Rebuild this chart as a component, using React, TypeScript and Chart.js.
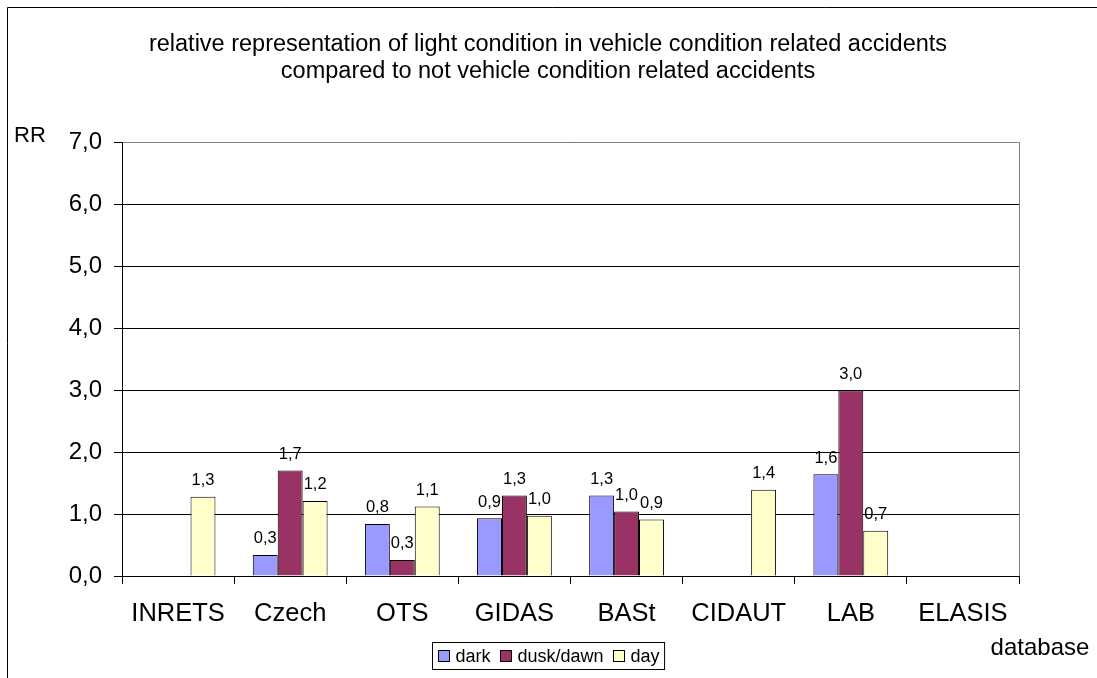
import React, { useEffect, useRef } from "react";
import { Chart, registerables } from "chart.js";

Chart.register(...registerables);

// Databases on the category axis
const categories = ["INRETS", "Czech", "OTS", "GIDAS", "BASt", "CIDAUT", "LAB", "ELASIS"];

// Relative representation (RR) per light condition
const darkValues = [null, 0.34, 0.84, 0.93, 1.3, null, 1.64, null];
const duskDawnValues = [null, 1.7, 0.26, 1.3, 1.04, null, 2.99, null];
const dayValues = [1.28, 1.21, 1.12, 0.97, 0.91, 1.39, 0.73, null];

const seriesNames = ["dark", "dusk/dawn", "day"];
const seriesColors = ["#9999FF", "#993366", "#FFFFCC"];

const yMin = 0;
const yMax = 7;
const yStep = 1;

const titleLines = [
  "relative representation of light condition in vehicle condition related accidents",
  "compared to not vehicle condition related accidents",
];
const yAxisTitle = "RR";
const xAxisTitle = "database";

const FONT = '"Liberation Sans", Arial, sans-serif';
const W = 1097;
const H = 678;

const fmt = (v: number) => v.toFixed(1).replace(".", ",");

const decorPlugin = {
  id: "decor",
  beforeDraw(chart: any) {
    const ctx = chart.ctx;
    ctx.save();
    ctx.fillStyle = "#ffffff";
    ctx.fillRect(0, 0, chart.width, chart.height);
    ctx.restore();
  },
  afterDatasetsDraw(chart: any) {
    const ctx = chart.ctx;
    ctx.save();
    ctx.fillStyle = "#000";
    ctx.font = `16.5px ${FONT}`;
    ctx.textAlign = "center";
    ctx.textBaseline = "alphabetic";
    chart.data.datasets.forEach((ds: any, i: number) => {
      const meta = chart.getDatasetMeta(i);
      ds.data.forEach((v: number | null, j: number) => {
        if (v === null || v === undefined) return;
        const el = meta.data[j];
        ctx.fillText(fmt(v), el.x, el.y - 11.5);
      });
    });
    ctx.restore();
  },
  afterDraw(chart: any) {
    const ctx = chart.ctx;
    const a = chart.chartArea;
    ctx.save();

    // plot area border (top and right)
    ctx.strokeStyle = "#808080";
    ctx.lineWidth = 1;
    ctx.beginPath();
    ctx.moveTo(a.left + 1, Math.round(a.top) + 0.5);
    ctx.lineTo(Math.round(a.right) + 0.5, Math.round(a.top) + 0.5);
    ctx.lineTo(Math.round(a.right) + 0.5, Math.round(a.bottom));
    ctx.stroke();

    // outer frame
    ctx.strokeStyle = "#000";
    ctx.beginPath();
    ctx.moveTo(7.5, H + 5);
    ctx.lineTo(7.5, 7.5);
    ctx.lineTo(W + 5, 7.5);
    ctx.stroke();

    // title
    ctx.fillStyle = "#000";
    ctx.textAlign = "center";
    ctx.textBaseline = "middle";
    ctx.font = `23.5px ${FONT}`;
    titleLines.forEach((line, i) => ctx.fillText(line, 548, 45 + i * 27));

    // axis titles
    ctx.font = `22px ${FONT}`;
    ctx.textAlign = "left";
    ctx.fillText(yAxisTitle, 14, 136);
    ctx.font = `24px ${FONT}`;
    ctx.textAlign = "center";
    ctx.fillText(xAxisTitle, 1040, 648);

    // legend
    ctx.font = `18px ${FONT}`;
    const marker = 12;
    const gapAfterMarker = 6;
    const gapBetween = 9;
    const padX = 5;
    const widths = seriesNames.map((n) => ctx.measureText(n).width);
    const inner = widths.reduce((s, w) => s + marker + gapAfterMarker + w, 0) + gapBetween * (seriesNames.length - 1);
    const boxW = inner + padX * 2;
    const boxX = Math.round(548.5 - boxW / 2) + 0.5;
    const boxY = 642.5;
    const boxH = 27;
    ctx.fillStyle = "#fff";
    ctx.fillRect(boxX, boxY, boxW, boxH);
    ctx.strokeStyle = "#000";
    ctx.strokeRect(boxX, boxY, boxW, boxH);
    let x = boxX + padX;
    const cy = boxY + boxH / 2;
    seriesNames.forEach((n, i) => {
      ctx.fillStyle = seriesColors[i];
      ctx.fillRect(Math.round(x) + 0.5, Math.round(cy - marker / 2) + 0.5, marker - 1, marker - 1);
      ctx.strokeStyle = "#000";
      ctx.strokeRect(Math.round(x) + 0.5, Math.round(cy - marker / 2) + 0.5, marker - 1, marker - 1);
      x += marker + gapAfterMarker;
      ctx.fillStyle = "#000";
      ctx.textAlign = "left";
      ctx.textBaseline = "middle";
      ctx.fillText(n, x, cy + 1);
      x += widths[i] + gapBetween;
    });

    ctx.restore();
  },
};

export default function App() {
  const ref = useRef<HTMLCanvasElement | null>(null);

  useEffect(() => {
    if (!ref.current) return;
    const seriesValues = [darkValues, duskDawnValues, dayValues];
    const chart = new Chart(ref.current, {
      type: "bar",
      data: {
        labels: categories,
        datasets: seriesValues.map((vals, i) => ({
          label: seriesNames[i],
          data: vals,
          backgroundColor: seriesColors[i],
          borderColor: "#000",
          borderWidth: 1,
          categoryPercentage: 0.667,
          barPercentage: 1,
        })),
      },
      options: {
        responsive: false,
        animation: false,
        devicePixelRatio: 1,
        layout: { padding: { top: 142, left: 0, right: 78, bottom: 0 } },
        plugins: {
          legend: { display: false },
          title: { display: false },
          tooltip: { enabled: false },
        },
        scales: {
          x: {
            afterFit: (s: any) => {
              s.height = 102;
            },
            grid: {
              display: true,
              offset: true,
              drawOnChartArea: false,
              drawTicks: true,
              tickLength: 8,
              color: "#000",
            },
            border: { display: true, color: "#000", width: 1 },
            ticks: {
              color: "#000",
              font: { family: FONT, size: 25.5 },
              padding: 15,
              maxRotation: 0,
              autoSkip: false,
            },
          },
          y: {
            min: yMin,
            max: yMax,
            afterFit: (s: any) => {
              s.width = 122;
            },
            grid: {
              color: "#000",
              tickLength: 8,
              drawTicks: true,
            },
            border: { display: true, color: "#000", width: 1 },
            ticks: {
              stepSize: yStep,
              color: "#000",
              font: { family: FONT, size: 24 },
              padding: 12,
              callback: (v: any) => fmt(Number(v)),
            },
          },
        },
      },
      plugins: [decorPlugin],
    });
    return () => chart.destroy();
  }, []);

  return (
    <div style={{ position: "fixed", left: 0, top: 0, width: W, height: H, background: "#fff" }}>
      <canvas ref={ref} width={W} height={H} style={{ display: "block" }} />
    </div>
  );
}
